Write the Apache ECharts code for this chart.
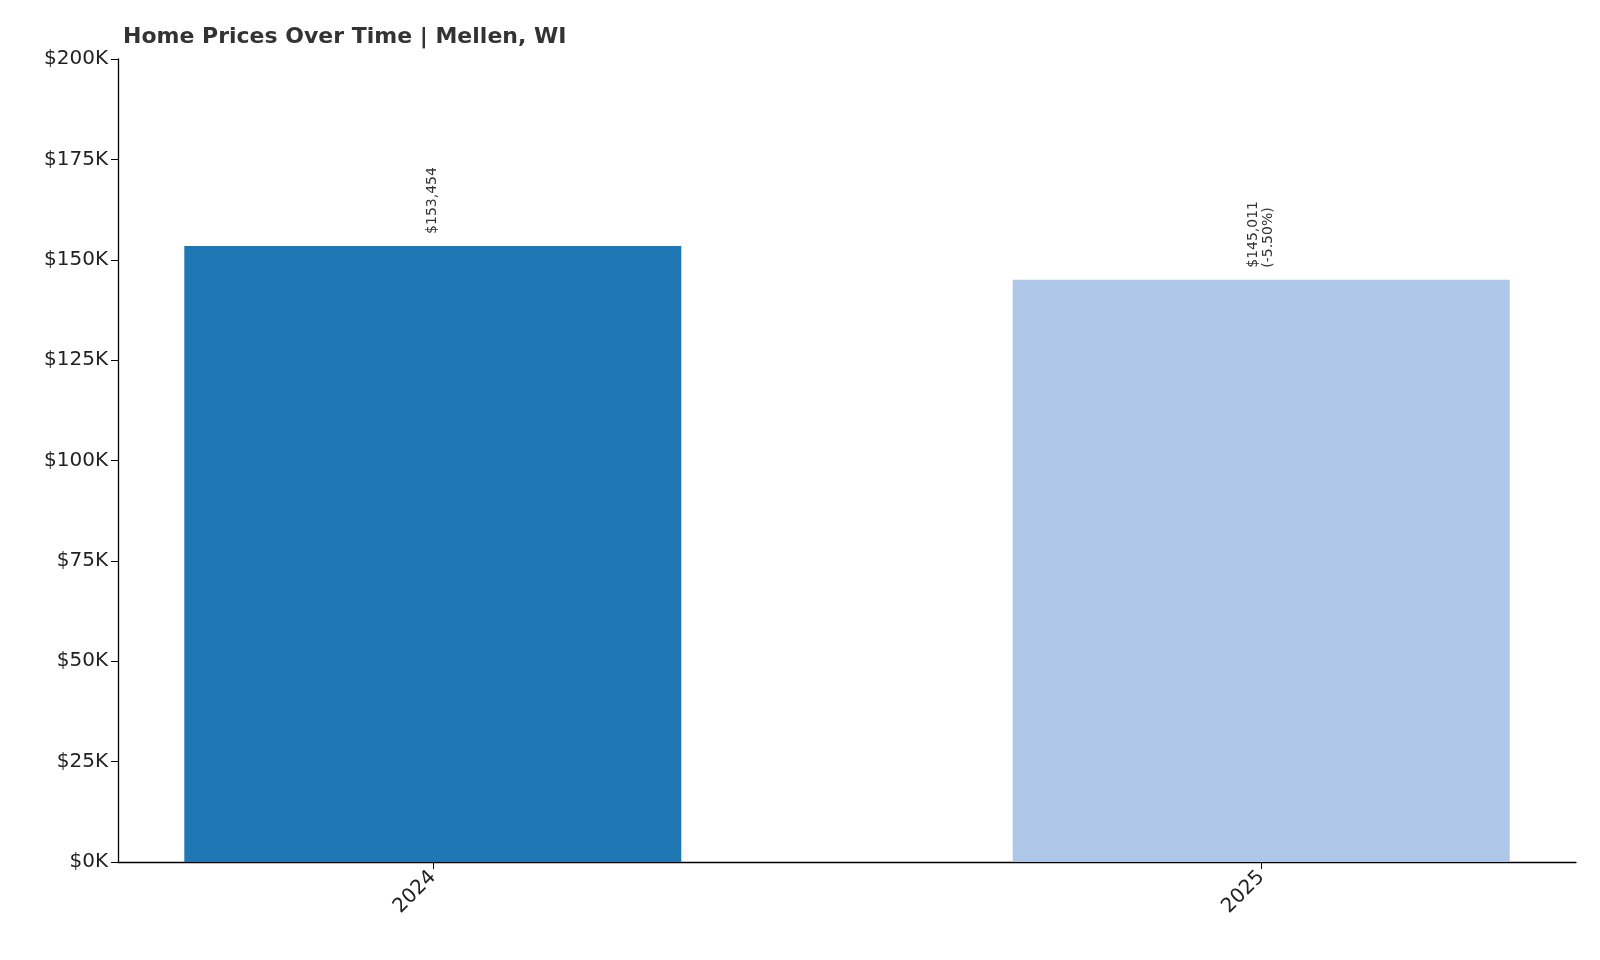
<!DOCTYPE html>
<html><head><meta charset="utf-8">
<script src="https://cdn.jsdelivr.net/npm/echarts@6/dist/echarts.min.js"></script>
<style>html,body{margin:0;padding:0;background:#fff}#c{width:1600px;height:960px}</style>
</head><body><div id="c"></div>
<script>
const years = ['2024', '2025'];
const values = [153454, 145011];
const labels = ['$153,454', '$145,011\n(-5.50%)'];
const colors = ['#1f77b4', '#aec7e8'];

const chart = echarts.init(document.getElementById('c'));
chart.setOption({
  animation: false,
  title: { text: 'Home Prices Over Time | Mellen, WI', left: 118, top: 21,
    textStyle: { fontFamily: 'DejaVu Sans', fontSize: 22, fontWeight: 'bold', color: '#333' } },
  grid: { left: 118, right: 24, top: 59, bottom: 98 },
  xAxis: { type: 'value', min: -0.38, max: 1.38,
    axisLine: { show: true, onZero: false, lineStyle: { color: '#000', width: 1.3 } },
    axisTick: { show: true, customValues: [0, 1], length: 7, lineStyle: { color: '#000' } },
    axisLabel: { customValues: [0, 1], formatter: v => years[Math.round(v)], rotate: 45, margin: 12,
      fontFamily: 'DejaVu Sans', fontSize: 20, color: '#222' },
    splitLine: { show: false } },
  yAxis: { type: 'value', min: 0, max: 200000, interval: 25000,
    axisLine: { show: true, onZero: false, lineStyle: { color: '#000', width: 1.3 } },
    axisTick: { show: true, length: 7, lineStyle: { color: '#000' } },
    axisLabel: { formatter: v => '$' + (v / 1000) + 'K', fontFamily: 'DejaVu Sans', fontSize: 20, color: '#222', margin: 10 },
    splitLine: { show: false } },
  series: [{
    type: 'bar', barWidth: 497,
    data: values.map((v, i) => ({ value: [i, v], itemStyle: { color: colors[i] },
      label: { formatter: labels[i] } })),
    label: { show: true, position: 'top', rotate: 90, align: 'left', verticalAlign: 'middle', distance: 12,
      fontFamily: 'DejaVu Sans', fontSize: 14, color: '#333', lineHeight: 15 }
  }]
});
</script></body></html>
